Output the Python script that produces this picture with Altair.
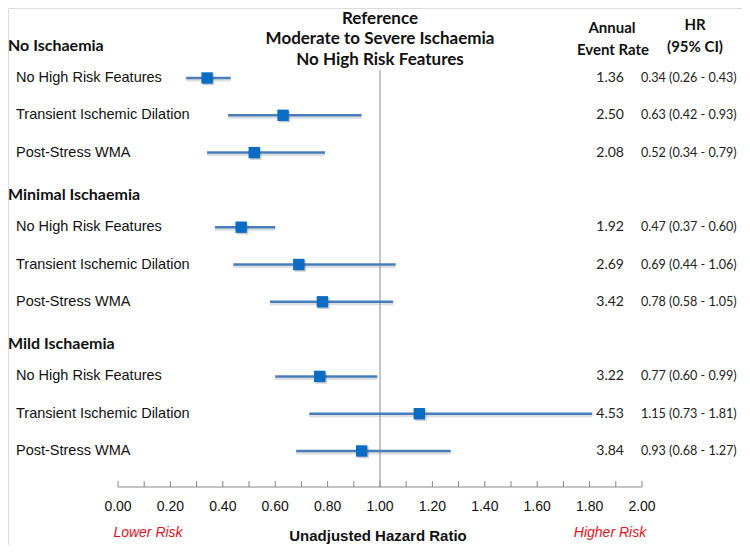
import altair as alt
import pandas as pd

groups = ["No Ischaemia", "Minimal Ischaemia", "Mild Ischaemia"]
features = ["No High Risk Features", "Transient Ischemic Dilation", "Post-Stress WMA"]
event_rate = ["1.36", "2.50", "2.08", "1.92", "2.69", "3.42", "3.22", "4.53", "3.84"]
hr = [0.34, 0.63, 0.52, 0.47, 0.69, 0.78, 0.77, 1.15, 0.93]
ci_low = [0.26, 0.42, 0.34, 0.37, 0.44, 0.58, 0.60, 0.73, 0.68]
ci_high = [0.43, 0.93, 0.79, 0.60, 1.06, 1.05, 0.99, 1.81, 1.27]
tick_values = [0.0, 0.2, 0.4, 0.6, 0.8, 1.0, 1.2, 1.4, 1.6, 1.8, 2.0]
tick_labels = ["0.00", "0.20", "0.40", "0.60", "0.80", "1.00", "1.20", "1.40", "1.60", "1.80", "2.00"]
minor_ticks = [0.0, 0.1, 0.2, 0.3, 0.4, 0.5, 0.6, 0.7, 0.8, 0.9, 1.0,
               1.1, 1.2, 1.3, 1.4, 1.5, 1.6, 1.7, 1.8, 1.9, 2.0]
reference_hr = 1.0

# build tables
rows = []
for gi, g in enumerate(groups):
    for fi, f in enumerate(features):
        i = gi * 3 + fi
        rows.append({
            "key": f"r{i}", "group": g, "feature": f, "rate": event_rate[i],
            "hr": hr[i], "lo": ci_low[i], "hi": ci_high[i],
            "label": f"{hr[i]:.2f} ({ci_low[i]:.2f} - {ci_high[i]:.2f})",
        })
df = pd.DataFrame(rows)
hdr = pd.DataFrame({"group": groups, "key": [f"r{gi*3}" for gi in range(len(groups))]})
ticks_df = pd.DataFrame({"v": minor_ticks})
labels_df = pd.DataFrame({"v": tick_values, "t": tick_labels})

y_domain = ["r0", "r1", "r2", "g1", "r3", "r4", "r5", "g2", "r6", "r7", "r8"]
xs = alt.Scale(domain=[0, 2], range=[110, 634])
ys = alt.Scale(type="point", domain=y_domain, range=[70, 443], padding=0)
X = lambda f: alt.X(f, type="quantitative", scale=xs, axis=None)
Y = alt.Y("key:N", scale=ys, axis=None)

line_col = "#4a7ebb"
sq_col = "#0b6cc4"
lab_font = "Liberation Sans"
num_font = "Lato"

base = alt.Chart(df)

shadow = base.mark_rule(strokeWidth=3, color="#9aa4b0", opacity=0.35, yOffset=2).encode(
    x=X("lo"), x2="hi", y=Y)
ci = base.mark_rule(strokeWidth=2.5, color=line_col).encode(x=X("lo"), x2="hi", y=Y)
sq_shadow = base.mark_square(size=130, color="#555555", opacity=0.3, xOffset=1.5, yOffset=1.5).encode(
    x=X("hr"), y=Y)
sq = base.mark_square(size=130, color=sq_col, opacity=1).encode(x=X("hr"), y=Y)

feat_text = base.mark_text(align="left", baseline="middle", font=lab_font, fontSize=14.5, color="#111111").encode(
    x=alt.value(8), y=Y, text="feature:N")
rate_text = base.mark_text(align="right", baseline="middle", font=num_font, fontSize=14, color="#222222").encode(
    x=alt.value(616), y=Y, text="rate:N")
hr_text = base.mark_text(align="left", baseline="middle", font=num_font, fontSize=12.6, color="#222222").encode(
    x=alt.value(633), y=Y, text="label:N")
grp_text = alt.Chart(hdr).mark_text(align="left", baseline="middle", font=num_font, fontSize=16,
                                    fontWeight="bold", color="#111111", dy=-32).encode(
    x=alt.value(0), y=alt.Y("key:N", scale=ys, axis=None), text="group:N")

ref_line = alt.Chart(pd.DataFrame({"v": [reference_hr]})).mark_rule(color="#8a8a8a", strokeWidth=1).encode(
    x=X("v"), y=alt.value(62), y2=alt.value(479))

axis_line = alt.Chart(pd.DataFrame({"a": [tick_values[0]], "b": [tick_values[-1]]})).mark_rule(
    color="#888888", strokeWidth=1).encode(x=X("a"), x2="b", y=alt.value(479))
axis_ticks = alt.Chart(ticks_df).mark_rule(color="#888888", strokeWidth=1).encode(
    x=X("v"), y=alt.value(473), y2=alt.value(479))
axis_labels = alt.Chart(labels_df).mark_text(font=lab_font, fontSize=14, color="#111111", baseline="middle").encode(
    x=X("v"), y=alt.value(499), text="t:N")

def txt(s, x, y, size=14, weight="normal", color="#111111", font=lab_font, style="normal", align="center"):
    return alt.Chart(pd.DataFrame({"s": [s]})).mark_text(
        font=font, fontSize=size, fontWeight=weight, color=color, fontStyle=style,
        align=align, baseline="middle").encode(x=alt.value(x), y=alt.value(y), text="s:N")

extras = [
    txt("Reference", 372, 10.5, 17, "bold", font=num_font),
    txt("Moderate to Severe Ischaemia", 372, 31, 17, "bold", font=num_font),
    txt("No High Risk Features", 372, 51.5, 17, "bold", font=num_font),
    txt("Annual", 604, 20, 15, "bold", font=num_font),
    txt("Event Rate", 605, 42, 15, "bold", font=num_font),
    txt("HR", 687, 17, 15, "bold", font=num_font),
    txt("(95% CI)", 687, 39, 15, "bold", font=num_font),
    txt("Lower Risk", 140, 525, 14, color="#e0141e", style="italic"),
    txt("Higher Risk", 602, 525, 14, color="#e0141e", style="italic"),
    txt("Unadjusted Hazard Ratio", 370, 528, 15, "bold"),
]

chart = alt.layer(
    ref_line, axis_line, axis_ticks, axis_labels,
    shadow, ci, sq_shadow, sq,
    feat_text, rate_text, hr_text, grp_text, *extras
).properties(
    width=734, height=537, autosize=alt.AutoSizeParams(type="none"), padding=0
).configure_view(stroke=None).configure(background="white")

chart.save("out.html", embed_options={"renderer": "svg", "actions": False})
